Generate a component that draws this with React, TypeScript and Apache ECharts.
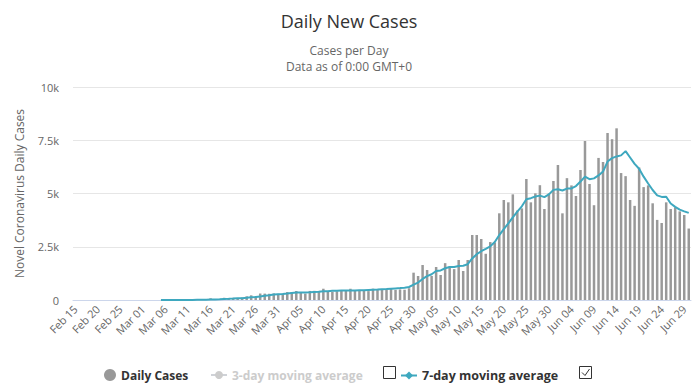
import React, { useEffect, useRef } from "react";
import * as echarts from "echarts";

// ---- Data ----
const startDay = "2020-02-15";
const dayCount = 137;
const monthNames = ["Jan", "Feb", "Mar", "Apr", "May", "Jun", "Jul"];

const febCases = [0, 0, 0, 0, 0, 0, 0, 0, 0, 0, 0, 0, 0, 0, 0];
const marCases = [
  0, 0, 1, 0, 2, 1, 3, 3, 3, 4, 6, 10, 10, 18, 14, 81, 46, 37, 104, 92, 103, 95,
  114, 176, 220, 164, 304, 299, 293, 310, 289,
];
const aprCases = [
  293, 373, 362, 424, 344, 301, 426, 430, 426, 529, 426, 386, 412, 425, 459,
  528, 442, 473, 457, 418, 532, 489, 518, 494, 552, 473, 498, 482, 552, 1283,
];
const mayCases = [
  1127, 1643, 1408, 1130, 1550, 1174, 1730, 1580, 1450, 1878, 1362, 1878, 3052,
  3052, 2864, 2170, 2720, 2700, 4070, 4695, 4585, 4960, 4200, 4300, 5681, 4585,
  5008, 5390, 4272, 5000, 5587,
];
const junCases = [
  6338, 4069, 5720, 5380, 4883, 6104, 7465, 5446, 4450, 6670, 6480, 7840, 7550,
  8060, 5960, 5815, 4695, 4420, 6220, 5300, 5380, 4540, 3760, 3615, 4585, 4272,
  4350, 4160, 3990, 3355,
];

const febAvg7 = [null, null, null, null, null, null, null, null, null, null, null, null, null, null, null];
const marAvg7 = [
  null, null, null, null, 0, 1, 1, 2, 2, 3, 3, 4, 6, 8, 9, 20, 26, 30, 44, 55,
  67, 80, 84, 103, 130, 140, 168, 196, 224, 254, 268,
];
const aprAvg7 = [
  279, 302, 330, 347, 353, 354, 362, 380, 387, 410, 411, 434, 440, 445, 445,
  450, 449, 455, 460, 470, 480, 490, 505, 515, 530, 545, 560, 580, 610, 720,
];
const mayAvg7 = [
  820, 990, 1120, 1210, 1360, 1390, 1490, 1550, 1550, 1600, 1610, 1680, 1950,
  2150, 2290, 2400, 2520, 2720, 3050, 3330, 3600, 3880, 4150, 4400, 4730, 4780,
  4860, 4900, 4830, 4960, 5170,
];
const junAvg7 = [
  5200, 5140, 5230, 5240, 5350, 5560, 5790, 5670, 5710, 5850, 6030, 6500, 6660,
  6740, 6790, 6990, 6690, 6390, 6160, 5790, 5470, 5164, 4910, 4840, 4850, 4530,
  4370, 4240, 4160, 4090,
];

const avg3: (number | null)[] = [];

const yTickLabels = ["0", "2.5k", "5k", "7.5k", "10k"];

const dailyCases = [...febCases, ...marCases, ...aprCases, ...mayCases, ...junCases];
const avg7 = [...febAvg7, ...marAvg7, ...aprAvg7, ...mayAvg7, ...junAvg7];

function buildCategories(): string[] {
  const out: string[] = [];
  const d0 = new Date(startDay + "T00:00:00Z");
  for (let i = 0; i < dayCount; i++) {
    const d = new Date(d0.getTime() + i * 86400000);
    const dd = String(d.getUTCDate()).padStart(2, "0");
    out.push(monthNames[d.getUTCMonth()] + " " + dd);
  }
  return out;
}
const categories = buildCategories();

const FONT = "'Open Sans', sans-serif";
const LINE_COLOR = "#3ea8bf";

export default function App() {
  const ref = useRef<HTMLDivElement>(null);
  useEffect(() => {
    if (!ref.current) return;
    const chart = echarts.init(ref.current, undefined, { renderer: "svg" });
    chart.setOption({
      animation: false,
      backgroundColor: "#ffffff",
      textStyle: { fontFamily: FONT },
      title: {
        text: "Daily New Cases",
        subtext: "Cases per Day\nData as of 0:00 GMT+0",
        left: "center",
        top: 7,
        itemGap: 12,
        textStyle: { fontFamily: FONT, fontSize: 18, fontWeight: "normal", color: "#333333" },
        subtextStyle: { fontFamily: FONT, fontSize: 12, color: "#666666", lineHeight: 16 },
      },
      legend: [
        {
          data: ["Daily Cases"],
          left: 99,
          top: 364,
          icon: "circle",
          itemWidth: 12,
          itemHeight: 12,
          itemGap: 5,
          textStyle: { fontFamily: FONT, fontSize: 12, fontWeight: "bold", color: "#333333" },
        },
        {
          data: ["3-day moving average"],
          left: 205,
          top: 364,
          itemWidth: 16,
          itemHeight: 10,
          inactiveColor: "#cccccc",
          selected: { "3-day moving average": false },
          textStyle: { fontFamily: FONT, fontSize: 12, fontWeight: "bold", color: "#333333" },
        },
        {
          data: ["7-day moving average"],
          left: 395,
          top: 364,
          itemWidth: 16,
          itemHeight: 10,
          textStyle: { fontFamily: FONT, fontSize: 12.5, fontWeight: "bold", color: "#333333" },
        },
      ],
      grid: { left: 73, right: 7, top: 87, bottom: 89, containLabel: false },
      xAxis: {
        type: "category",
        data: categories,
        boundaryGap: true,
        axisLine: { lineStyle: { color: "#ccd6eb" } },
        axisTick: { show: false },
        axisLabel: {
          interval: 4,
          rotate: 45,
          margin: 7,
          fontFamily: FONT,
          fontSize: 11,
          color: "#666666",
        },
      },
      yAxis: {
        type: "value",
        min: 0,
        max: 10000,
        interval: 2500,
        name: "Novel Coronavirus Daily Cases",
        nameLocation: "middle",
        nameGap: 48,
        nameTextStyle: { fontFamily: FONT, fontSize: 12, color: "#666666" },
        axisLabel: {
          margin: 14,
          fontFamily: FONT,
          fontSize: 11,
          color: "#666666",
          formatter: (v: number) => yTickLabels[Math.round(v / 2500)],
        },
        splitLine: { lineStyle: { color: "#e6e6e6" } },
      },
      series: [
        {
          name: "Daily Cases",
          type: "bar",
          data: dailyCases,
          barWidth: 2.5,
          itemStyle: { color: "#999999" },
        },
        {
          name: "3-day moving average",
          type: "line",
          data: avg3,
          symbol: "circle",
          showSymbol: false,
          itemStyle: { color: "#cccccc" },
        },
        {
          name: "7-day moving average",
          type: "line",
          data: avg7,
          symbol: "diamond",
          symbolSize: 8,
          showSymbol: false,
          connectNulls: false,
          lineStyle: { color: LINE_COLOR, width: 2 },
          itemStyle: { color: LINE_COLOR },
        },
      ],
      graphic: [
        {
          type: "rect",
          shape: { x: 383.5, y: 366.5, width: 12, height: 12 },
          style: { fill: "#ffffff", stroke: "#333333", lineWidth: 1 },
        },
        {
          type: "rect",
          shape: { x: 579.5, y: 366.5, width: 12, height: 12 },
          style: { fill: "#ffffff", stroke: "#333333", lineWidth: 1 },
        },
        {
          type: "polyline",
          shape: { points: [[582, 372.5], [585, 375.5], [589.5, 369]] },
          style: { fill: "none", stroke: "#333333", lineWidth: 1 },
        },
      ],
    });
    return () => chart.dispose();
  }, []);
  return (
    <div
      ref={ref}
      style={{ position: "fixed", left: 0, top: 0, width: 698, height: 389 }}
    />
  );
}
